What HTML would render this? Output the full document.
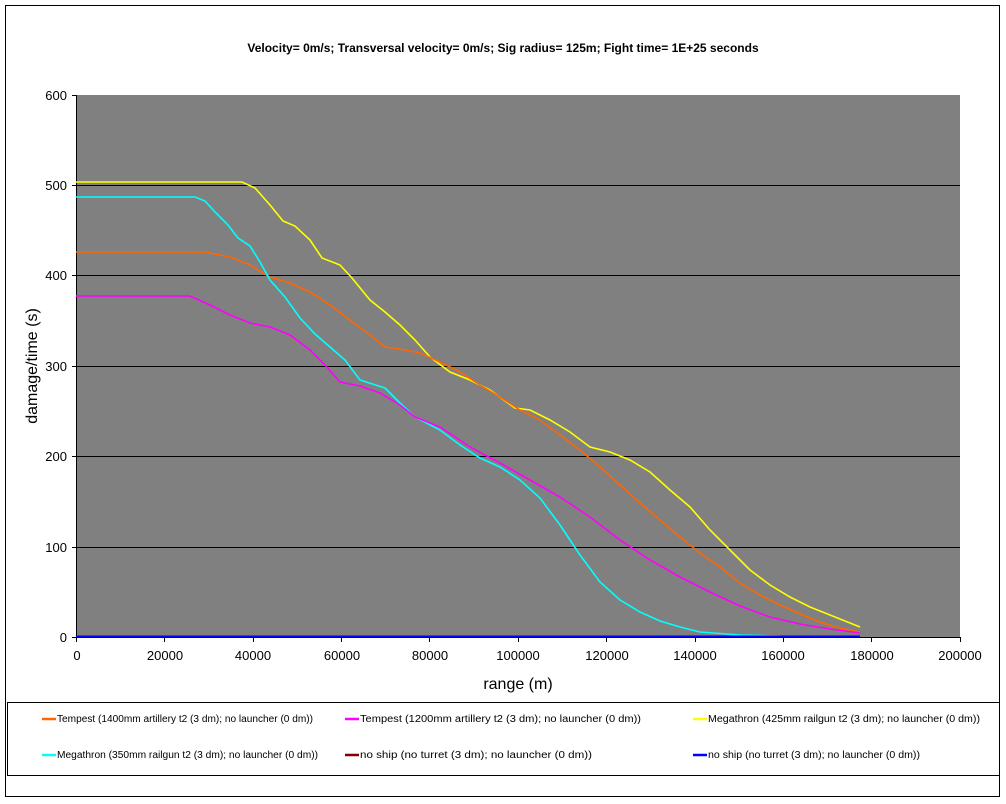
<!DOCTYPE html>
<html><head><meta charset="utf-8"><style>
body{margin:0;background:#fff;}
svg{display:block;font-family:"Liberation Sans",sans-serif;}
</style></head><body>
<svg width="1006" height="804" viewBox="0 0 1006 804">
<rect x="5.5" y="5.5" width="994" height="791" fill="#fff" stroke="#000"/>
<text x="503" y="52" text-anchor="middle" font-size="12" font-weight="bold">Velocity= 0m/s; Transversal velocity= 0m/s; Sig radius= 125m; Fight time= 1E+25 seconds</text>
<rect x="77" y="95" width="883" height="542" fill="#808080"/>
<g stroke="#000" stroke-width="1">
<line x1="77" y1="185.5" x2="960" y2="185.5"/>
<line x1="77" y1="275.5" x2="960" y2="275.5"/>
<line x1="77" y1="366.5" x2="960" y2="366.5"/>
<line x1="77" y1="456.5" x2="960" y2="456.5"/>
<line x1="77" y1="547.5" x2="960" y2="547.5"/>
<line x1="76.5" y1="95" x2="76.5" y2="637"/>
<line x1="72" y1="637.5" x2="960" y2="637.5"/>
<line x1="72" y1="95.5" x2="76" y2="95.5"/>
<line x1="72" y1="185.5" x2="76" y2="185.5"/>
<line x1="72" y1="275.5" x2="76" y2="275.5"/>
<line x1="72" y1="366.5" x2="76" y2="366.5"/>
<line x1="72" y1="456.5" x2="76" y2="456.5"/>
<line x1="72" y1="547.5" x2="76" y2="547.5"/>
<line x1="76.5" y1="637" x2="76.5" y2="642"/><line x1="164.5" y1="637" x2="164.5" y2="642"/><line x1="253.5" y1="637" x2="253.5" y2="642"/><line x1="341.5" y1="637" x2="341.5" y2="642"/><line x1="429.5" y1="637" x2="429.5" y2="642"/><line x1="518.5" y1="637" x2="518.5" y2="642"/><line x1="606.5" y1="637" x2="606.5" y2="642"/><line x1="695.5" y1="637" x2="695.5" y2="642"/><line x1="783.5" y1="637" x2="783.5" y2="642"/><line x1="871.5" y1="637" x2="871.5" y2="642"/><line x1="960.5" y1="637" x2="960.5" y2="642"/>
</g>
<g font-size="13" text-anchor="end">
<text x="67" y="100">600</text><text x="67" y="190">500</text><text x="67" y="280">400</text><text x="67" y="371">300</text><text x="67" y="461">200</text><text x="67" y="552">100</text><text x="67" y="642">0</text>
</g>
<g font-size="13" text-anchor="middle">
<text x="77" y="660">0</text><text x="165" y="660">20000</text><text x="253" y="660">40000</text><text x="342" y="660">60000</text><text x="430" y="660">80000</text><text x="518" y="660">100000</text><text x="607" y="660">120000</text><text x="695" y="660">140000</text><text x="783" y="660">160000</text><text x="872" y="660">180000</text><text x="960" y="660">200000</text>
</g>
<text x="518" y="689" font-size="16" text-anchor="middle">range (m)</text>
<text transform="translate(37,366) rotate(-90)" font-size="16" text-anchor="middle">damage/time (s)</text>
<g fill="none" stroke-width="1.6">
<polyline stroke="#ffff00" points="76,182 242,182 255,188 270,205 283,221 295,226 310,240 322,258 340,265 352,278 370,300 385,312 400,325 415,340 430,357 450,372 470,380 490,390 515,408 530,410 550,420 570,432 590,447 610,452 630,460 650,472 670,490 690,507 710,530 730,550 750,570 770,585 790,597 810,607 830,615 860,627"/>
<polyline stroke="#ff6600" points="76,252 205,252 230,257 250,265 270,277 290,283 310,292 330,305 350,320 370,335 385,347 400,349 420,353 440,362 460,372 480,385 500,397 520,410 540,420 560,435 580,450 600,467 620,485 640,503 660,520 680,537 700,553 720,567 740,583 760,595 780,605 800,614 820,622 840,628 860,632"/>
<polyline stroke="#00ffff" points="76,197 195,197 205,201 215,212 228,225 238,238 250,246 260,262 270,280 285,297 300,318 315,334 330,347 345,360 360,380 385,388 400,403 415,417 440,430 460,445 480,458 500,467 520,480 540,498 560,525 580,555 600,582 620,600 640,612 660,621 680,627 700,632 740,635 780,636"/>
<polyline stroke="#ff00ff" points="76,296 190,296 210,305 230,315 250,323 270,327 290,335 310,350 325,365 340,382 360,386 380,393 400,405 415,417 440,427 470,447 500,463 530,480 560,497 590,517 620,540 650,560 680,577 710,592 740,606 770,617 800,624 830,629 860,633"/>
<line x1="76" y1="636.5" x2="860" y2="636.5" stroke="#0000ff" stroke-width="2"/>
</g>
<rect x="7.5" y="702.5" width="992" height="73" fill="#fff" stroke="#000"/>
<g stroke-width="2.5">
<line x1="42" y1="719" x2="56" y2="719" stroke="#ff6600"/>
<line x1="345" y1="719" x2="359" y2="719" stroke="#ff00ff"/>
<line x1="693" y1="719" x2="707" y2="719" stroke="#ffff00"/>
<line x1="42" y1="755" x2="56" y2="755" stroke="#00ffff"/>
<line x1="345" y1="755" x2="359" y2="755" stroke="#800000"/>
<line x1="693" y1="755" x2="707" y2="755" stroke="#0000ff"/>
</g>
<g font-size="10">
<text x="57" y="722" textLength="256" lengthAdjust="spacingAndGlyphs">Tempest (1400mm artillery t2 (3 dm); no launcher (0 dm))</text>
<text x="360" y="722" textLength="281" lengthAdjust="spacingAndGlyphs">Tempest (1200mm artillery t2 (3 dm); no launcher (0 dm))</text>
<text x="708" y="722" textLength="272" lengthAdjust="spacingAndGlyphs">Megathron (425mm railgun t2 (3 dm); no launcher (0 dm))</text>
<text x="57" y="758" textLength="261" lengthAdjust="spacingAndGlyphs">Megathron (350mm railgun t2 (3 dm); no launcher (0 dm))</text>
<text x="360" y="758" textLength="232" lengthAdjust="spacingAndGlyphs">no ship (no turret (3 dm); no launcher (0 dm))</text>
<text x="708" y="758" textLength="212" lengthAdjust="spacingAndGlyphs">no ship (no turret (3 dm); no launcher (0 dm))</text>
</g>
</svg>
</body></html>
